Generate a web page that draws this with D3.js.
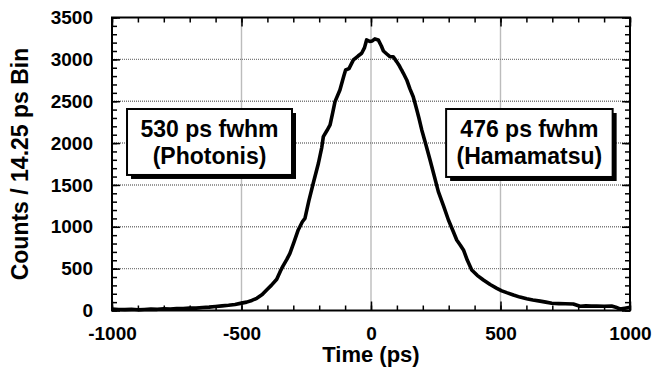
<!DOCTYPE html>
<html>
<head>
<meta charset="utf-8">
<script src="https://cdn.jsdelivr.net/npm/d3@7"></script>
<style>
  body { margin: 0; background: #fff; }
  svg { display: block; }
</style>
</head>
<body>
<svg></svg>
<script>
var width = 652;
var height = 377;
var margin = {'top': 17.5, 'bottom': 66.5, 'left': 112, 'right': 22}

// time (ps) and counts per 14.25 ps bin
var times = [-1000,-975,-950,-925,-900,-875,-850,-825,-800,-775,-750,-725,-700,-675,-650,-625,-600,-575,-550,-525,
  -500,-480,-460,-441,-420,-403,-385,-364,-350,-340,-325,-313,-297,-281,-265,-255,-240,-223,-203,-190,
  -184,-170,-158,-148,-139,-120,-105,-98,-85,-68,-50,-36,-25,-17,-5,5,15,28,40,48,
  61,73,86,99,110,118,125,138,150,163,170,177,185,196,212,228,244,260,280,299,
  318,331,345,357,372,389,410,434,460,486,505,524,550,575,601,625,653,675,698,725,
  750,781,807,830,850,871,900,929,945,961,980,1000]
var counts = [18,12,10,14,8,12,16,14,20,18,24,22,30,28,36,40,48,55,62,72,
  88,100,120,146,190,245,300,373,470,530,610,683,820,962,1060,1101,1310,1520,1759,1950,
  2077,2150,2216,2360,2495,2634,2800,2873,2890,2993,3040,3073,3140,3232,3215,3220,3244,3232,3160,3100,
  3064,3032,3032,2973,2920,2873,2834,2754,2650,2554,2475,2395,2300,2157,1980,1798,1610,1420,1250,1081,
  941,842,780,723,600,484,420,364,310,265,235,213,185,160,140,125,112,100,86,82,
  80,78,50,55,52,54,50,54,40,18,28,38]

var xTicks = [-1000, -500, 0, 500, 1000]
var yTicks = [0, 500, 1000, 1500, 2000, 2500, 3000, 3500]
var xMinor = d3.range(-1000, 1001, 100)
var yMinor = d3.range(0, 3501, 100)

// annotation boxes in data units
var notes = [
  {lines: ['530 ps fwhm', '(Photonis)'], t0: -942, t1: -305, c0: 2407, c1: 1619},
  {lines: ['476 ps fwhm', '(Hamamatsu)'], t0: 290, t1: 933, c0: 2407, c1: 1595}
]

var x = d3.scaleLinear()
    .domain([-1000, 1000])
    .range([margin.left, width - margin.right])

var y = d3.scaleLinear()
    .domain([0, 3500])
    .range([height - margin.bottom, margin.top])

const svg = d3.select('svg')
    .attr('width', width)
    .attr('height', height)
    .attr('font-family', '"Liberation Sans", Arial, sans-serif')
    .attr('font-weight', 'bold')

// dotted grid
const grid = svg.append('g')
    .attr('stroke', '#7a7a7a')
    .attr('stroke-width', 1.4)
    .attr('stroke-dasharray', '1,1')

grid.selectAll('.gx')
    .data(xTicks.slice(1, -1))
    .join('line')
    .attr('x1', d => x(d)).attr('x2', d => x(d))
    .attr('y1', y(3500)).attr('y2', y(0))

grid.selectAll('.gy')
    .data(yTicks.slice(1, -1))
    .join('line')
    .attr('y1', d => y(d)).attr('y2', d => y(d))
    .attr('x1', x(-1000)).attr('x2', x(1000))

function styleAxis(g) {
  g.select('.domain').remove()
  g.selectAll('.tick line').attr('stroke', '#000').attr('stroke-width', 1.5)
  g.selectAll('text').attr('fill', '#000').attr('font-size', 19)
}

const yBot = y(0), yTop = y(3500), xLeft = x(-1000), xRight = x(1000)
const plain = d => String(d)

// minor ticks on all four sides
svg.append('g').attr('transform', `translate(0,${yBot})`)
    .call(d3.axisBottom(x).tickValues(xMinor).tickSize(-5).tickSizeOuter(0).tickFormat(''))
    .call(styleAxis)
svg.append('g').attr('transform', `translate(0,${yTop})`)
    .call(d3.axisTop(x).tickValues(xMinor).tickSize(-5).tickSizeOuter(0).tickFormat(''))
    .call(styleAxis)
svg.append('g').attr('transform', `translate(${xLeft},0)`)
    .call(d3.axisLeft(y).tickValues(yMinor).tickSize(-5).tickSizeOuter(0).tickFormat(''))
    .call(styleAxis)
svg.append('g').attr('transform', `translate(${xRight},0)`)
    .call(d3.axisRight(y).tickValues(yMinor).tickSize(-5).tickSizeOuter(0).tickFormat(''))
    .call(styleAxis)

// major ticks with labels
svg.append('g').attr('transform', `translate(0,${yBot})`)
    .call(d3.axisBottom(x).tickValues(xTicks).tickSize(-9).tickSizeOuter(0).tickPadding(16).tickFormat(plain))
    .call(styleAxis)
svg.append('g').attr('transform', `translate(0,${yTop})`)
    .call(d3.axisTop(x).tickValues(xTicks).tickSize(-9).tickSizeOuter(0).tickFormat(''))
    .call(styleAxis)
svg.append('g').attr('transform', `translate(${xLeft},0)`)
    .call(d3.axisLeft(y).tickValues(yTicks).tickSize(-8).tickSizeOuter(0).tickPadding(19).tickFormat(plain))
    .call(styleAxis)
svg.append('g').attr('transform', `translate(${xRight},0)`)
    .call(d3.axisRight(y).tickValues(yTicks).tickSize(-8).tickSizeOuter(0).tickFormat(''))
    .call(styleAxis)

// frame
svg.append('rect')
    .attr('x', xLeft).attr('y', yTop)
    .attr('width', xRight - xLeft).attr('height', yBot - yTop)
    .attr('fill', 'none').attr('stroke', '#000').attr('stroke-width', 2)

// data line
const line = d3.line()
    .x((d, i) => x(times[i]))
    .y(d => y(d))

svg.append('path')
    .datum(counts)
    .attr('fill', 'none')
    .attr('stroke', '#000')
    .attr('stroke-width', 3.6)
    .attr('stroke-linejoin', 'round')
    .attr('d', line)

// annotation boxes with drop shadow
const note = svg.selectAll('.note')
    .data(notes)
    .join('g')

note.append('rect')
    .attr('x', d => x(d.t0) + 4).attr('y', d => y(d.c0) + 4)
    .attr('width', d => x(d.t1) - x(d.t0)).attr('height', d => y(d.c1) - y(d.c0))
    .attr('fill', '#000')

note.append('rect')
    .attr('x', d => x(d.t0)).attr('y', d => y(d.c0))
    .attr('width', d => x(d.t1) - x(d.t0)).attr('height', d => y(d.c1) - y(d.c0))
    .attr('fill', '#fff').attr('stroke', '#000').attr('stroke-width', 2)

note.each(function(d) {
  const g = d3.select(this)
  d.lines.forEach((s, i) => {
    g.append('text')
      .attr('x', (x(d.t0) + x(d.t1)) / 2)
      .attr('y', y(d.c0) + 27.7 + i * 27.5)
      .attr('text-anchor', 'middle')
      .attr('font-size', 23)
      .text(s)
  })
})

// axis titles
svg.append('text')
    .attr('x', (xLeft + xRight) / 2)
    .attr('y', 362)
    .attr('text-anchor', 'middle')
    .attr('font-size', 22)
    .text('Time (ps)')

svg.append('text')
    .attr('transform', `translate(28,${(yTop + yBot) / 2}) rotate(-90)`)
    .attr('text-anchor', 'middle')
    .attr('font-size', 23)
    .text('Counts / 14.25 ps Bin')
</script>
</body>
</html>
